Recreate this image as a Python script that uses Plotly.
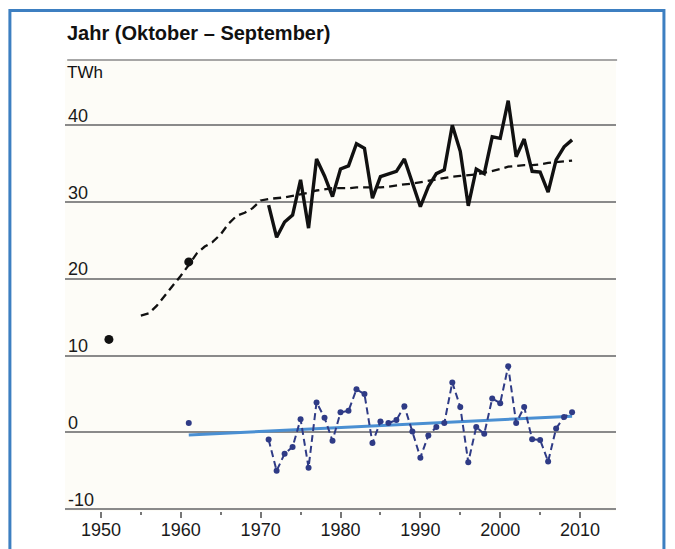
import plotly.graph_objects as go

# ---- data ----
actual_years = list(range(1971, 2010))
actual_twh = [29.6, 25.4, 27.4, 28.3, 32.9, 26.6, 35.6, 33.4, 30.7, 34.3,
              34.7, 37.6, 37.0, 30.5, 33.3, 33.6, 34.0, 35.6, 32.5, 29.4,
              32.0, 33.7, 34.2, 40.0, 36.6, 29.5, 34.3, 33.7, 38.5, 38.3,
              43.2, 35.9, 38.2, 34.0, 33.9, 31.3, 35.5, 37.2, 38.1]

expected_years = list(range(1955, 2010))
expected_twh = [15.2, 15.5, 16.5, 17.8, 19.0, 20.4, 21.8, 23.3, 24.2, 24.8,
                25.8, 27.2, 28.2, 28.6, 29.2, 30.2, 30.4, 30.5, 30.6, 30.8,
                31.0, 31.2, 31.5, 31.7, 31.8, 31.8, 31.8, 31.9, 31.9, 31.9,
                31.9, 32.0, 32.2, 32.3, 32.4, 32.6, 32.8, 33.0, 33.1, 33.3,
                33.4, 33.5, 33.6, 33.8, 34.0, 34.3, 34.6, 34.7, 34.8, 34.8,
                34.9, 35.1, 35.2, 35.3, 35.4]

point_years = [1951, 1961]
point_twh = [12.1, 22.2]

anomaly_years = [1961] + list(range(1971, 2010))
anomaly_twh = [1.2,
               -0.95, -5.0, -2.8, -1.9, 1.7, -4.6, 3.9, 1.9, -1.1, 2.6,
               2.8, 5.6, 5.0, -1.4, 1.4, 1.2, 1.6, 3.4, 0.1, -3.3,
               -0.4, 0.7, 1.2, 6.5, 3.3, -3.9, 0.7, -0.2, 4.4, 3.8,
               8.6, 1.2, 3.3, -0.9, -1.0, -3.8, 0.5, 2.0, 2.6]

trend_years = [1961, 2009]
trend_twh = [-0.35, 2.1]

y_ticks = [-10, 0, 10, 20, 30, 40]
y_ticktext = ["-10", "0", "10", "20", "30", "40"]
x_ticks = [1950, 1960, 1970, 1980, 1990, 2000, 2010]
x_ticktext = ["1950", "1960", "1970", "1980", "1990", "2000", "2010"]

FONT = "Liberation Sans, Arial, Helvetica, sans-serif"
NAVY = "#2f3b86"
LIGHTBLUE = "#4a8fd2"

fig = go.Figure()

# expected (dashed black)
fig.add_trace(go.Scatter(x=expected_years, y=expected_twh, mode="lines",
                         line=dict(color="#111", width=2.3, dash="8px,5px"),
                         hoverinfo="skip"))
# actual (solid black)
fig.add_trace(go.Scatter(x=actual_years, y=actual_twh, mode="lines",
                         line=dict(color="#111", width=3.4)))
# isolated points
fig.add_trace(go.Scatter(x=point_years, y=point_twh, mode="markers",
                         marker=dict(color="#111", size=9)))

# anomaly trend (light blue)
fig.add_trace(go.Scatter(x=trend_years, y=trend_twh, mode="lines",
                         line=dict(color=LIGHTBLUE, width=3)))

# anomaly series: isolated early point + dashed connected part
early_x = [yr for yr in anomaly_years if yr < 1971]
early_y = [v for yr, v in zip(anomaly_years, anomaly_twh) if yr < 1971]
late_x = [yr for yr in anomaly_years if yr >= 1971]
late_y = [v for yr, v in zip(anomaly_years, anomaly_twh) if yr >= 1971]
fig.add_trace(go.Scatter(x=early_x, y=early_y, mode="markers",
                         marker=dict(color=NAVY, size=6)))
fig.add_trace(go.Scatter(x=late_x, y=late_y, mode="lines+markers",
                         line=dict(color=NAVY, width=2, dash="7px,4px"),
                         marker=dict(color=NAVY, size=6)))

# The page body has an 8px default margin, so the figure is sized to fit.
fig.update_layout(
    width=667, height=541,
    margin=dict(l=57, r=59, t=52, b=38, autoexpand=False),
    paper_bgcolor="white",
    plot_bgcolor="#fdfcf7",
    showlegend=False,
    font=dict(family=FONT, color="#1a1a1a", size=18),
    xaxis=dict(range=[1945.5, 2014.5], tickvals=x_ticks, ticktext=x_ticktext,
               automargin=False,
               showgrid=False, zeroline=False, showline=False,
               ticks="outside", ticklen=6, tickwidth=1.5, tickcolor="#777",
               ticklabelstandoff=-4,
               minor=dict(dtick=5, tick0=1950, ticks="outside", ticklen=3,
                          tickwidth=1.5, tickcolor="#777", showgrid=False),
               tickfont=dict(size=18, family=FONT, color="#1a1a1a")),
    yaxis=dict(range=[-10.25, 48.5], tickvals=y_ticks, ticktext=y_ticktext,
               automargin=False,
               showgrid=True, gridcolor="#8a8a8a", gridwidth=1.6,
               zeroline=False, showline=False, ticks="",
               ticklabelposition="inside top",
               ticklabelshift=3,
               tickfont=dict(size=18, family=FONT, color="#1a1a1a")),
    shapes=[
        # top rule under the title
        dict(type="line", xref="paper", yref="paper", x0=0.004, x1=1.002,
             y0=1, y1=1, line=dict(color="#8a8a8a", width=1.6)),
        # outer blue frame
        dict(type="rect", xref="paper", yref="paper",
             x0=-0.1, x1=1.087, y0=-0.25, y1=1.11,
             line=dict(color="#3d7fc1", width=3)),
    ],
    annotations=[
        dict(text="<b>Jahr (Oktober – September)</b>", xref="paper", yref="paper",
             x=0.0, y=1.06, xanchor="left", yanchor="middle", showarrow=False,
             font=dict(size=20, family=FONT, color="#111")),
        dict(text="TWh", xref="paper", yref="paper",
             x=0.0, y=0.973, xanchor="left", yanchor="middle", showarrow=False,
             font=dict(size=17, family=FONT, color="#111")),
    ],
)

fig.write_html("out.html")
